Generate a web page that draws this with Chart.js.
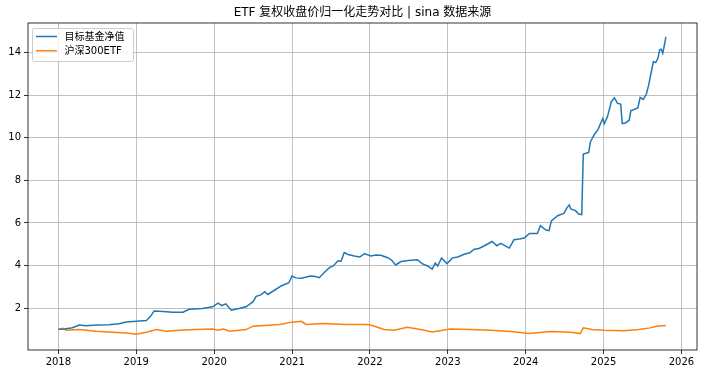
<!DOCTYPE html>
<html>
<head>
<meta charset="utf-8">
<script src="https://cdn.jsdelivr.net/npm/chart.js@4.4.1/dist/chart.umd.min.js"></script>
<style>
  html, body { margin: 0; padding: 0; background: #fff; }
  canvas { display: block; }
</style>
</head>
<body>
<canvas id="etfchart" width="703" height="373"></canvas>
<script>
// values (x = decimal year, y = normalised price)
var titleText = 'ETF 复权收盘价归一化走势对比 | sina 数据来源';
var seriesNames = ['目标基金净值', '沪深300ETF'];

var fundYears = [2018.00, 2018.08, 2018.18, 2018.27, 2018.35, 2018.50, 2018.65, 2018.78, 2018.87, 2019.00,
    2019.13, 2019.18, 2019.23, 2019.35, 2019.47, 2019.60, 2019.68, 2019.85, 2019.98, 2020.05,
    2020.10, 2020.15, 2020.22, 2020.32, 2020.41, 2020.50, 2020.54, 2020.60, 2020.65, 2020.69,
    2020.78, 2020.86, 2020.96, 2021.00, 2021.05, 2021.12, 2021.24, 2021.30, 2021.35, 2021.42,
    2021.48, 2021.53, 2021.59, 2021.63, 2021.67, 2021.72, 2021.80, 2021.87, 2021.93, 2022.01,
    2022.08, 2022.14, 2022.23, 2022.28, 2022.33, 2022.40, 2022.47, 2022.53, 2022.61, 2022.67,
    2022.74, 2022.80, 2022.84, 2022.87, 2022.92, 2022.99, 2023.06, 2023.13, 2023.21, 2023.28,
    2023.34, 2023.40, 2023.47, 2023.57, 2023.63, 2023.68, 2023.79, 2023.85, 2023.92, 2023.98,
    2024.05, 2024.15, 2024.19, 2024.26, 2024.30, 2024.33, 2024.41, 2024.49, 2024.53, 2024.56,
    2024.58, 2024.64, 2024.68, 2024.72, 2024.74, 2024.81, 2024.83, 2024.88, 2024.93, 2024.97,
    2024.99, 2025.01, 2025.05, 2025.10, 2025.14, 2025.18, 2025.22, 2025.24, 2025.28, 2025.33,
    2025.35, 2025.44, 2025.47, 2025.51, 2025.55, 2025.58, 2025.61, 2025.64, 2025.67, 2025.70,
    2025.72, 2025.74, 2025.76, 2025.78, 2025.80];
var fundValues = [1.00, 1.02, 1.08, 1.20, 1.17, 1.20, 1.22, 1.26, 1.35, 1.38,
    1.42, 1.60, 1.86, 1.84, 1.81, 1.81, 1.94, 1.98, 2.06, 2.23,
    2.12, 2.20, 1.90, 1.98, 2.06, 2.30, 2.55, 2.62, 2.77, 2.64,
    2.85, 3.04, 3.19, 3.51, 3.42, 3.40, 3.51, 3.48, 3.43, 3.70,
    3.90, 3.98, 4.22, 4.20, 4.61, 4.52, 4.45, 4.40, 4.56, 4.45,
    4.50, 4.48, 4.37, 4.25, 4.03, 4.19, 4.22, 4.25, 4.27, 4.09,
    3.98, 3.83, 4.11, 3.98, 4.35, 4.09, 4.36, 4.40, 4.53, 4.60,
    4.77, 4.80, 4.93, 5.13, 4.93, 5.04, 4.82, 5.21, 5.25, 5.29,
    5.51, 5.51, 5.87, 5.67, 5.64, 6.10, 6.34, 6.45, 6.71, 6.85,
    6.66, 6.58, 6.42, 6.39, 9.24, 9.32, 9.80, 10.15, 10.40, 10.75,
    10.91, 10.67, 10.99, 11.70, 11.88, 11.62, 11.59, 10.67, 10.70, 10.83,
    11.27, 11.41, 11.90, 11.81, 12.06, 12.49, 13.04, 13.59, 13.54, 13.75,
    14.14, 14.17, 13.98, 14.33, 14.75];

var hs300Years = [2018.00, 2018.06, 2018.10, 2018.27, 2018.48, 2018.70, 2018.87, 2019.00, 2019.13, 2019.26,
    2019.38, 2019.56, 2019.77, 2019.98, 2020.05, 2020.12, 2020.20, 2020.41, 2020.50, 2020.84,
    2021.00, 2021.12, 2021.18, 2021.39, 2021.69, 2021.95, 2022.01, 2022.08, 2022.18, 2022.31,
    2022.48, 2022.65, 2022.80, 2023.03, 2023.29, 2023.55, 2023.81, 2024.04, 2024.32, 2024.58,
    2024.70, 2024.74, 2024.85, 2025.00, 2025.26, 2025.45, 2025.60, 2025.68, 2025.80];
var hs300Values = [1.00, 1.05, 0.96, 0.99, 0.91, 0.86, 0.83, 0.77, 0.86, 0.99,
    0.91, 0.96, 0.99, 1.02, 0.96, 1.02, 0.91, 0.99, 1.15, 1.23,
    1.34, 1.38, 1.23, 1.27, 1.23, 1.23, 1.20, 1.12, 0.99, 0.96,
    1.10, 0.99, 0.88, 1.02, 0.99, 0.96, 0.90, 0.80, 0.90, 0.86,
    0.80, 1.07, 0.99, 0.96, 0.93, 0.99, 1.07, 1.15, 1.18];

var xTickValues = [2018, 2019, 2020, 2021, 2022, 2023, 2024, 2025, 2026];
var yTickValues = [2, 4, 6, 8, 10, 12, 14];

var FONT = "'DejaVu Sans', 'Noto Sans CJK SC', sans-serif";
var colors = ['#1f77b4', '#ff7f0e'];

function toPoints(xs, ys) {
    return xs.map(function(x, i) { return {x: x, y: ys[i]}; });
}

// frame, title and legend drawn the matplotlib way
var decorations = {
    id: 'decorations',
    afterDraw: function(chart) {
        var ctx = chart.ctx;
        var a = chart.chartArea;
        ctx.save();
        ctx.strokeStyle = '#000';
        ctx.lineWidth = 0.8;
        ctx.strokeRect(a.left, a.top, a.right - a.left, a.bottom - a.top);

        ctx.fillStyle = '#000';
        ctx.font = '12px ' + FONT;
        ctx.textAlign = 'center';
        ctx.textBaseline = 'middle';
        ctx.fillText(titleText, (a.left + a.right) / 2, 13);

        // legend
        ctx.font = '10px ' + FONT;
        var textW = 0;
        seriesNames.forEach(function(n) { textW = Math.max(textW, ctx.measureText(n).width); });
        var bx = a.left + 4.5, by = a.top + 5.5;
        var bw = 36 + textW + 5, bh = 33;
        ctx.beginPath();
        ctx.roundRect(bx, by, bw, bh, 2);
        ctx.fillStyle = 'rgba(255,255,255,0.8)';
        ctx.fill();
        ctx.strokeStyle = '#cccccc';
        ctx.lineWidth = 1;
        ctx.stroke();
        ctx.textAlign = 'left';
        seriesNames.forEach(function(n, i) {
            var ly = by + 8 + i * 14.3;
            ctx.beginPath();
            ctx.moveTo(bx + 3.5, ly);
            ctx.lineTo(bx + 24.5, ly);
            ctx.strokeStyle = colors[i];
            ctx.lineWidth = 1.5;
            ctx.stroke();
            ctx.fillStyle = '#000';
            ctx.fillText(n, bx + 32, ly + 0.5);
        });
        ctx.restore();
    }
};

var ctx = document.getElementById('etfchart').getContext('2d');
new Chart(ctx, {
    type: 'line',
    data: {
        datasets: [{
            label: seriesNames[0],
            data: toPoints(fundYears, fundValues),
            borderColor: colors[0],
            borderWidth: 1.5,
            pointRadius: 0,
            tension: 0
        }, {
            label: seriesNames[1],
            data: toPoints(hs300Years, hs300Values),
            borderColor: colors[1],
            borderWidth: 1.5,
            pointRadius: 0,
            tension: 0
        }]
    },
    options: {
        responsive: false,
        animation: false,
        layout: {padding: {top: 23, right: 6, left: 0, bottom: 0}},
        plugins: {
            legend: {display: false},
            title: {display: false},
            tooltip: {enabled: false}
        },
        scales: {
            x: {
                type: 'linear',
                min: 2017.61,
                max: 2026.2,
                afterBuildTicks: function(axis) {
                    axis.ticks = xTickValues.map(function(v) { return {value: v}; });
                },
                afterFit: function(axis) { axis.height = 23; },
                grid: {color: '#b0b0b0', lineWidth: 0.8, tickColor: '#000', tickLength: 4},
                border: {display: false},
                ticks: {
                    color: '#000',
                    padding: 2,
                    maxRotation: 0,
                    font: {family: FONT, size: 10},
                    callback: function(v) { return String(v); }
                }
            },
            y: {
                min: 0.03,
                max: 15.4,
                afterBuildTicks: function(axis) {
                    axis.ticks = yTickValues.map(function(v) { return {value: v}; });
                },
                afterFit: function(axis) { axis.width = 28; },
                grid: {color: '#b0b0b0', lineWidth: 0.8, tickColor: '#000', tickLength: 4},
                border: {display: false},
                ticks: {
                    color: '#000',
                    padding: 3,
                    font: {family: FONT, size: 10},
                    callback: function(v) { return String(v); }
                }
            }
        }
    },
    plugins: [decorations]
});
</script>
</body>
</html>
